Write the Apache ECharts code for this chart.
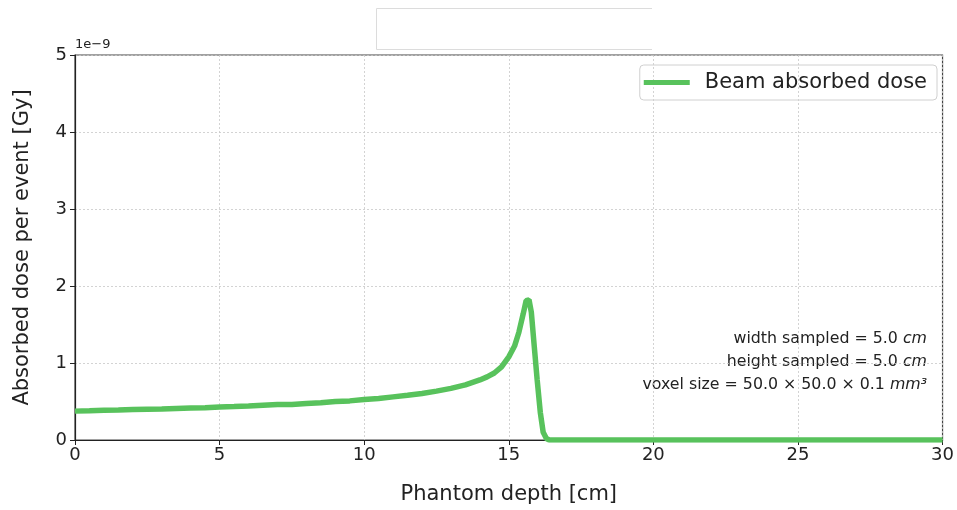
<!DOCTYPE html>
<html>
<head>
<meta charset="utf-8">
<script src="https://cdn.jsdelivr.net/npm/echarts@6/dist/echarts.min.js"></script>
<style>
html,body{margin:0;padding:0;background:#fff;}
#chart{width:957px;height:510px;}
</style>
</head>
<body>
<div id="chart"></div>
<script>
// Phantom depth [cm]
var depth = [0, 0.5, 1, 1.5, 2, 2.5, 3, 3.5, 4, 4.5, 5, 5.5, 6, 6.5, 7, 7.5, 8, 8.5, 9, 9.5,
  10, 10.5, 11, 11.5, 12, 12.5, 13, 13.5, 14, 14.25, 14.5, 14.75, 15, 15.2, 15.35, 15.5, 15.6,
  15.7, 15.78, 15.88, 15.98, 16.09, 16.19, 16.3, 16.4, 17, 20, 25, 30];
// Absorbed dose per event, in units of 1e-9 Gy
var dose = [0.375, 0.38, 0.386, 0.39, 0.396, 0.40, 0.404, 0.41, 0.415, 0.42, 0.43, 0.434, 0.44, 0.45, 0.46, 0.462, 0.475, 0.483, 0.50, 0.508,
  0.525, 0.54, 0.56, 0.58, 0.605, 0.635, 0.67, 0.715, 0.78, 0.82, 0.87, 0.95, 1.08, 1.22, 1.40, 1.64, 1.81,
  1.82, 1.66, 1.22, 0.79, 0.36, 0.10, 0.02, 0.0, 0.0, 0.0, 0.0, 0.0];
var xTicks = [0, 5, 10, 15, 20, 25, 30];
var yTicks = [0, 1, 2, 3, 4, 5];
var seriesName = 'Beam absorbed dose';
var notes = ['width sampled = 5.0 ', 'height sampled = 5.0 ', 'voxel size = 50.0 × 50.0 × 0.1 '];
var noteUnits = ['cm', 'cm', 'mm³'];

var font = 'DejaVu Sans';
var green = '#58c25c';
var chart = echarts.init(document.getElementById('chart'));
var pts = depth.map(function (d, i) { return [d, dose[i]]; });

var noteGraphics = notes.map(function (t, i) {
  return {
    type: 'text', right: 30, top: 331 + i * 23,
    style: {
      text: '{n|' + t + '}{i|' + noteUnits[i] + '}',
      rich: {
        n: { fontFamily: font, fontSize: 15.8, fill: '#222' },
        i: { fontFamily: font, fontSize: 15.8, fontStyle: 'italic', fill: '#222' }
      }
    }
  };
});

chart.setOption({
  animation: false,
  backgroundColor: '#fff',
  grid: { left: 75, right: 10, top: 55, bottom: 69, show: true, borderColor: '#444', borderWidth: 1.2 },
  xAxis: {
    type: 'value', min: xTicks[0], max: xTicks[xTicks.length - 1], interval: 5,
    name: 'Phantom depth [cm]', nameLocation: 'middle', nameGap: 44,
    nameTextStyle: { fontFamily: font, fontSize: 21, color: '#222' },
    axisLine: { lineStyle: { color: '#222', width: 1.2 } },
    axisTick: { show: true, length: 5, lineStyle: { color: '#222' } },
    axisLabel: { fontFamily: font, fontSize: 18, color: '#222', margin: 6 },
    splitLine: { show: true, lineStyle: { color: '#c8c8c8', type: [2, 2], width: 0.8 } }
  },
  yAxis: {
    type: 'value', min: yTicks[0], max: yTicks[yTicks.length - 1], interval: 1,
    name: 'Absorbed dose per event [Gy]', nameLocation: 'middle', nameGap: 42,
    nameTextStyle: { fontFamily: font, fontSize: 21, color: '#222' },
    axisLine: { show: true, lineStyle: { color: '#222', width: 1.2 } },
    axisTick: { show: true, length: 5, lineStyle: { color: '#222' } },
    axisLabel: { fontFamily: font, fontSize: 18, color: '#222', margin: 8 },
    splitLine: { show: true, lineStyle: { color: '#c8c8c8', type: [2, 2], width: 0.8 } }
  },
  legend: {
    right: 20, top: 65, orient: 'vertical',
    data: [{ name: seriesName, icon: 'rect' }],
    itemWidth: 46, itemHeight: 5, itemGap: 10,
    padding: [7, 10, 7, 4],
    borderColor: '#d0d0d0', borderWidth: 1, borderRadius: 4,
    textStyle: { fontFamily: font, fontSize: 21, color: '#222', padding: [0, 0, 0, 10] }
  },
  series: [{
    name: seriesName, type: 'line', data: pts, showSymbol: false,
    lineStyle: { color: green, width: 5.5 }, itemStyle: { color: green }
  }],
  graphic: [
    { type: 'polyline', shape: { points: [[652, 8.5], [376.5, 8.5], [376.5, 49.5], [652, 49.5]] },
      style: { stroke: '#dcdcdc', fill: null, lineWidth: 1 } },
    { type: 'text', left: 75, top: 38, style: { text: '1e−9', fontFamily: font, fontSize: 13, fill: '#222' } }
  ].concat(noteGraphics)
});
</script>
</body>
</html>
